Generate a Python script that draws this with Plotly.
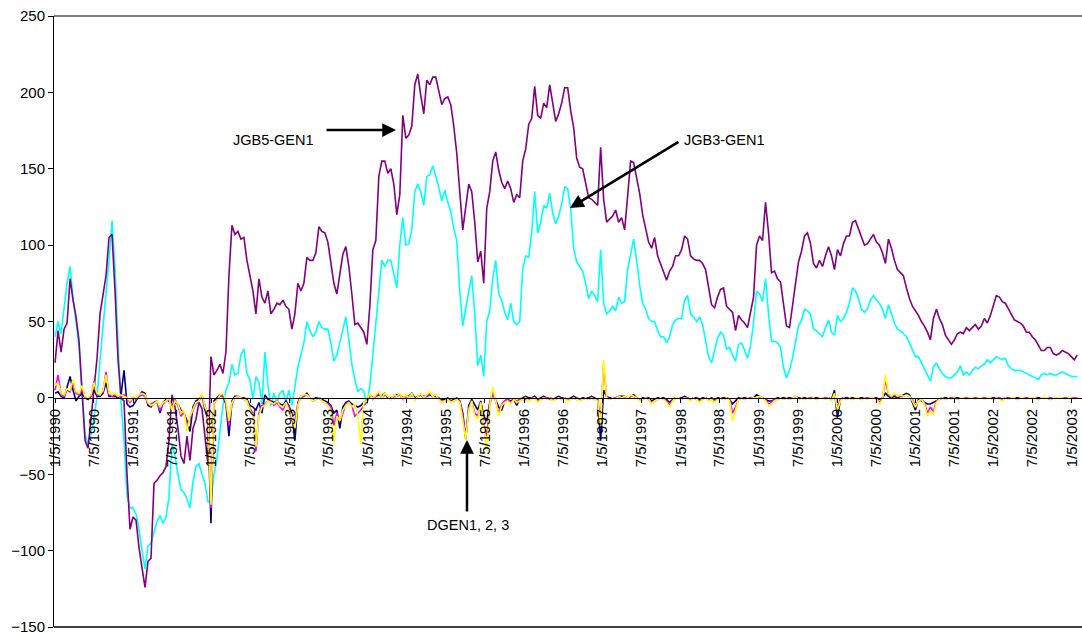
import pandas as pd
import plotly.graph_objects as go

# ---------------- data ----------------
start_date = "1990-01-05"       # first fortnightly observation
n_points = 342                   # fortnightly observations up to early 2003

# JGB5-GEN1 (purple), one list per year (26 fortnights)
P1990 = [23, 44, 30, 45, 49, 78, 64, 53, 37, 8, -28, -33, -14, 5, 26, 55, 68, 80, 105, 107, 70, 25, 0, -2, -50, -86]
P1991 = [-78, -80, -98, -112, -124, -107, -105, -56, -54, -51, -49, -45, -28, 2, -6, -20, -38, -43, -25, -41, -20, -14, -3, -7, -25, -43]
P1992 = [27, 15, 18, 22, 16, 30, 80, 113, 107, 109, 104, 105, 90, 80, 70, 55, 78, 66, 62, 70, 55, 58, 62, 61, 64, 60]
P1993 = [58, 45, 55, 75, 70, 75, 92, 90, 90, 95, 112, 109, 108, 102, 88, 75, 68, 82, 94, 99, 86, 68, 48, 49, 46, 43]
P1994 = [35, 60, 97, 103, 145, 155, 155, 147, 150, 140, 120, 133, 185, 170, 172, 178, 205, 212, 198, 186, 208, 205, 210, 210, 201, 192]
P1995 = [196, 197, 192, 178, 160, 133, 110, 125, 140, 135, 115, 89, 96, 75, 124, 135, 155, 161, 149, 141, 137, 142, 137, 128, 133, 131]
P1996 = [155, 163, 179, 183, 204, 185, 183, 193, 190, 205, 192, 181, 186, 193, 203, 203, 188, 177, 157, 151, 150, 141, 131, 130, 128, 126]
P1997 = [164, 130, 115, 117, 119, 123, 115, 118, 110, 132, 155, 154, 145, 134, 120, 110, 102, 98, 105, 93, 88, 82, 77, 83, 86, 93]
P1998 = [93, 97, 106, 104, 93, 91, 90, 90, 88, 84, 72, 61, 59, 66, 71, 72, 60, 58, 56, 44, 54, 51, 49, 46, 55, 66]
P1999 = [100, 106, 103, 128, 108, 82, 83, 78, 76, 60, 47, 46, 61, 75, 89, 96, 106, 108, 101, 88, 85, 90, 86, 93, 99, 93]
P2000 = [84, 97, 93, 101, 106, 106, 115, 116, 111, 105, 100, 101, 104, 107, 102, 100, 95, 88, 104, 98, 90, 84, 82, 80, 72, 65]
P2001 = [60, 57, 54, 50, 47, 43, 38, 52, 58, 52, 48, 41, 38, 35, 38, 42, 43, 42, 46, 44, 46, 48, 45, 47, 52, 49]
P2002 = [54, 60, 67, 66, 63, 62, 58, 54, 51, 50, 49, 47, 43, 43, 40, 38, 34, 31, 31, 33, 33, 29, 28, 29, 31, 30]
P2003 = [29, 27, 25, 28]

# JGB3-GEN1 (cyan)
C1990 = [40, 50, 42, 60, 75, 86, 65, 50, 33, 3, -24, -30, -24, -13, 1, 25, 45, 68, 90, 116, 85, 35, -3, -28, -64, -72]
C1991 = [-72, -76, -86, -100, -112, -97, -95, -88, -81, -77, -82, -78, -65, -30, -38, -50, -60, -62, -66, -72, -55, -45, -43, -50, -56, -68]
C1992 = [-68, -50, -40, -22, -5, 5, 10, 22, 15, 16, 28, 32, 16, 12, -1, 14, 10, -4, 30, 8, -5, 3, -3, 3, 5, -3]
C1993 = [5, -5, 8, 20, 28, 36, 50, 44, 40, 43, 50, 46, 45, 45, 36, 24, 28, 36, 44, 53, 38, 22, 12, 4, 6, 4]
C1994 = [-4, 8, 28, 48, 66, 90, 86, 90, 90, 80, 72, 100, 118, 100, 101, 110, 135, 140, 135, 126, 145, 146, 152, 145, 138, 129]
C1995 = [136, 128, 122, 111, 103, 70, 47, 59, 70, 80, 55, 21, 28, 14, 50, 57, 78, 90, 68, 64, 56, 51, 62, 50, 48, 50]
C1996 = [84, 93, 92, 108, 135, 108, 115, 126, 124, 134, 121, 114, 119, 127, 138, 137, 124, 98, 89, 86, 83, 75, 65, 70, 67, 63]
C1997 = [97, 62, 55, 57, 60, 57, 66, 62, 63, 84, 95, 104, 90, 74, 62, 58, 52, 50, 50, 44, 40, 40, 36, 40, 48, 51]
C1998 = [52, 52, 64, 67, 55, 53, 50, 53, 48, 36, 27, 23, 31, 39, 43, 41, 32, 33, 28, 24, 35, 36, 31, 26, 34, 49]
C1999 = [70, 68, 63, 78, 55, 37, 37, 36, 33, 20, 13, 18, 26, 38, 47, 51, 58, 57, 55, 45, 44, 42, 40, 46, 51, 43]
C2000 = [41, 54, 50, 52, 56, 62, 72, 70, 65, 58, 56, 58, 64, 67, 64, 62, 58, 52, 61, 55, 49, 45, 44, 42, 40, 36]
C2001 = [31, 27, 27, 23, 20, 15, 11, 20, 23, 19, 16, 14, 13, 13, 15, 17, 21, 15, 17, 15, 18, 20, 19, 21, 22, 25]
C2002 = [23, 25, 27, 26, 25, 26, 21, 19, 18, 18, 18, 17, 16, 15, 14, 13, 12, 15, 16, 15, 16, 15, 15, 16, 17, 16]
C2003 = [15, 14, 14, 14]

# DGEN1 (navy)
N1990 = [3, 4, 1, 0, 7, 14, 5, -2, 1, 3, 0, -1, 1, 5, 1, 1, 3, 10, 1, 1, 1, 0, 2, 18, -4, -6]
N1991 = [-5, -2, 1, 4, 3, -5, -6, -3, -2, -10, -3, -1, -2, -5, -3, -4, -8, -10, -15, -22, -6, -2, -1, 2, -8, -14]
N1992 = [-82, -2, 0, 2, 1, -4, -25, -2, 1, 1, 0, 0, -1, -5, -6, -8, -3, -10, 2, -1, -2, -3, -2, -4, -5, -2]
N1993 = [-5, -10, -28, -3, 1, 1, 3, 0, -1, 0, 0, -1, -2, -3, -5, -10, -8, -20, -6, -3, -2, -4, -5, -6, -5, -3]
N1994 = [-2, 2, 0, 1, 2, 1, 3, 0, 0, 1, 2, 2, 0, 1, 1, 3, 0, 1, 2, 1, 1, 2, 1, 1, 0, -1]
N1995 = [-1, 0, -2, -1, 0, -2, -10, -27, -5, -1, -5, -8, -2, -12, -15, -3, 3, -1, -6, -8, -2, -1, -2, -1, -5, -1]
N1996 = [0, 1, 0, 0, 1, -1, 0, 1, 0, 0, -1, 0, 1, 0, 0, -1, 0, 1, 0, -1, 0, 0, 0, 1, 0, -1]
N1997 = [-28, 5, 1, 0, 0, 0, 1, 1, 1, 0, 1, 2, 0, -1, 0, 0, 0, -2, -1, 0, 0, 0, -1, -3, -1, 0]
N1998 = [0, 0, 1, 0, -1, 0, 0, -1, 0, 0, -1, 0, -1, 0, 0, 0, 0, -1, -4, -2, 0, 0, 0, 0, 0, 0]
N1999 = [2, 1, 0, -1, -2, -2, -1, 0, 0, 0, 0, 0, 0, 1, 0, 0, 0, 0, 0, 0, 0, 0, 0, 0, 0, -1]
N2000 = [5, -13, -1, 0, 0, 0, 0, 0, 0, 0, 0, 0, 0, 0, 0, -1, 0, 3, 1, 0, 1, 0, 1, 2, 3, 2]
N2001 = [-3, -8, -1, -2, -3, -4, -4, -3, -2, -1, 0, 0, 0, 0, 0, 0, 0, 0, 0, 0, 0, 0, 0, 0, 0, 0]
N2002 = [0, 0, 0, 0, -1, 0, 0, 0, 0, 0, 0, 0, 0, 0, 0, 0, 0, 0, 0, 0, -1, 0, 0, 0, 0, 0]
N2003 = [0, 0, 0, 0]

# DGEN2 (magenta)
M1990 = [5, 15, 2, 1, 5, 4, 10, 3, 2, 6, 0, 0, 1, 11, 2, 2, 4, 17, 2, 1, 2, 1, 1, 2, 0, -3]
M1991 = [0, -1, 1, 2, 1, -4, -4, -3, -3, -8, -4, -2, -1, -6, -1, -5, -12, -9, -18, -14, -8, -4, -2, 2, -5, -12]
M1992 = [-72, -4, -1, 1, 2, -3, -18, -4, 0, 1, 0, -1, -2, -7, -10, -35, -10, -5, -4, -2, -2, -5, -3, -6, -8, -3]
M1993 = [-6, -15, -15, -4, 0, 1, 2, 0, -2, -1, 0, -2, -3, -4, -6, -18, -10, -15, -10, -4, -3, -5, -12, -10, -8, -5]
M1994 = [-3, 2, -1, 1, 3, 0, 2, 1, -1, 1, 1, 2, -1, 1, 0, 2, -1, 1, 2, 0, 1, 3, 1, 2, -1, -2]
M1995 = [-2, -1, -2, -2, -1, -2, -12, -26, -7, -2, -10, -12, -3, -18, -25, -5, 4, -2, -10, -4, -2, -1, -3, -1, -2, -1]
M1996 = [-1, -1, -1, 0, 0, -2, -1, 0, 0, -1, -1, -1, 0, -1, 0, -1, -1, 0, -1, -1, -1, 0, -1, 0, -1, -1]
M1997 = [-15, 22, 0, -1, 0, 0, 1, 0, 1, 0, 1, 1, 0, -1, -1, 0, -1, -3, -2, -1, 0, -1, -2, -5, -2, 0]
M1998 = [0, -1, 0, 0, -1, 0, -1, -2, -1, 0, -1, -1, -2, -1, 0, -1, 0, -1, -10, -6, -1, 0, -1, 0, 0, 0]
M1999 = [0, 0, 0, -1, -4, -3, -1, -1, 0, -1, 0, -1, 0, 0, -1, 0, -1, 0, 0, 0, -1, 0, 0, 0, 0, -1]
M2000 = [2, -6, -1, 0, -1, 0, -1, 0, 0, -1, 0, 0, 0, 0, -1, -3, 0, 12, 2, 1, 2, 1, 1, 1, 2, 1]
M2001 = [-1, -5, -2, -1, -3, -10, -6, -9, -2, -1, 0, -1, 0, 0, 0, -1, 0, 0, 0, 0, 0, 0, 0, 0, 0, 0]
M2002 = [0, -1, 0, 0, -1, 0, 0, 0, 0, -1, 0, 0, 0, 0, 0, 0, -1, 0, 0, 0, 0, 0, 0, 0, 0, 0]
M2003 = [0, 0, 0, 0]

# DGEN3 (yellow)
Y1990 = [8, 10, 3, 2, 6, 5, 12, 4, 3, 8, 1, 0, 2, 10, 3, 2, 5, 15, 3, 2, 3, 1, 2, 1, 0, -2]
Y1991 = [1, 0, 2, 3, 2, -3, -5, -4, -2, -6, -3, -2, 0, -8, -2, -4, -10, -8, -22, -12, -8, -3, -2, 3, -6, -10]
Y1992 = [-70, -3, -2, 2, 3, -2, -15, -3, 0, 1, 0, -1, -2, -8, -12, -32, -12, -6, -5, -2, -3, -4, -2, -5, -6, -3]
Y1993 = [-8, -12, -20, -5, 1, 2, 2, 0, -2, -1, 0, -2, -3, -5, -8, -30, -12, -15, -8, -5, -3, -6, -4, -12, -30, -3]
Y1994 = [-2, 3, -1, 2, 4, 0, 3, 1, -1, 2, 1, 3, -1, 2, 0, 3, -2, 1, 3, 0, 2, 4, 1, 2, -1, -3]
Y1995 = [-2, -1, -3, -2, -1, -3, -15, -27, -8, -2, -12, -14, -3, -20, -35, -5, 7, -2, -12, -5, -3, -2, -4, -1, -3, -2]
Y1996 = [-1, 0, -2, -1, 0, -3, -1, 0, -1, 0, -2, -1, 0, -1, 0, -2, -1, 0, -1, -2, -1, 0, -1, 0, -1, -2]
Y1997 = [-18, 25, 0, -1, 0, -1, 1, 0, 1, 0, 2, 1, 0, -2, -1, 0, -1, -4, -2, -1, 0, -1, -3, -6, -2, 0]
Y1998 = [0, -1, 0, -1, -2, 0, -1, -3, -1, 0, -2, -1, -3, -1, 0, -1, 0, -2, -15, -8, -1, 0, -1, 0, -1, 0]
Y1999 = [0, 1, 0, -2, -5, -4, -2, -1, 0, -1, 0, -1, 0, 1, -1, 0, -1, 0, -1, 0, -1, 0, 0, -1, 0, -2]
Y2000 = [3, -8, -2, 0, -1, 0, -1, 0, 0, -1, 0, -1, 0, 0, -1, -4, -1, 15, 3, 1, 3, 1, 2, 1, 2, 1]
Y2001 = [-2, -6, -2, -1, -4, -12, -8, -11, -3, -1, 0, -1, 0, -1, 0, -1, 0, 0, -1, 0, 0, -1, 0, 0, -1, 0]
Y2002 = [0, -1, 0, -1, -2, 0, -1, 0, 0, -1, 0, 0, -1, 0, 0, 0, -1, 0, 0, 0, -1, 0, 0, 0, 0, -1]
Y2003 = [0, 0, -1, 0]

tick_labels = [
    "1/5/1990", "7/5/1990", "1/5/1991", "7/5/1991", "1/5/1992", "7/5/1992",
    "1/5/1993", "7/5/1993", "1/5/1994", "7/5/1994", "1/5/1995", "7/5/1995",
    "1/5/1996", "7/5/1996", "1/5/1997", "7/5/1997", "1/5/1998", "7/5/1998",
    "1/5/1999", "7/5/1999", "1/5/2000", "7/5/2000", "1/5/2001", "7/5/2001",
    "1/5/2002", "7/5/2002", "1/5/2003",
]

# ---------------- assemble ----------------
def join(*parts):
    out = []
    for p in parts:
        out.extend(p)
    return out

jgb5 = join(P1990, P1991, P1992, P1993, P1994, P1995, P1996, P1997, P1998, P1999, P2000, P2001, P2002, P2003)
jgb3 = join(C1990, C1991, C1992, C1993, C1994, C1995, C1996, C1997, C1998, C1999, C2000, C2001, C2002, C2003)
dgen1 = join(N1990, N1991, N1992, N1993, N1994, N1995, N1996, N1997, N1998, N1999, N2000, N2001, N2002, N2003)
dgen2 = join(M1990, M1991, M1992, M1993, M1994, M1995, M1996, M1997, M1998, M1999, M2000, M2001, M2002, M2003)
dgen3 = join(Y1990, Y1991, Y1992, Y1993, Y1994, Y1995, Y1996, Y1997, Y1998, Y1999, Y2000, Y2001, Y2002, Y2003)

dates = pd.date_range(start=start_date, periods=n_points, freq="14D")
tickvals = pd.to_datetime(tick_labels, format="%m/%d/%Y")

series = [
    ("JGB3-GEN1", jgb3, "#00FFFF"),
    ("JGB5-GEN1", jgb5, "#800080"),
    ("DGEN1", dgen1, "#000080"),
    ("DGEN2", dgen2, "#FF00FF"),
    ("DGEN3", dgen3, "#FFFF00"),
]

fig = go.Figure()
for name, vals, col in series:
    fig.add_trace(go.Scatter(x=dates[:len(vals)], y=vals, mode="lines", name=name,
                             line=dict(color=col, width=1.6), hoverinfo="skip"))

FONT = "Arial, Liberation Sans, sans-serif"
fig.update_layout(
    width=1082, height=634,
    margin=dict(l=54, r=0, t=16, b=7),
    paper_bgcolor="white", plot_bgcolor="white",
    showlegend=False,
    font=dict(family=FONT, size=15, color="black"),
)
fig.update_xaxes(
    type="date", range=["1989-12-31", "2003-02-22"],
    anchor="free", position=0.375,
    showline=True, linecolor="black", linewidth=1,
    ticks="outside", ticklen=4, tickcolor="black", tickwidth=1,
    tickvals=tickvals, ticktext=tick_labels, tickangle=-90,
    tickfont=dict(family=FONT, size=15, color="black"),
    showgrid=False, zeroline=False, automargin=False,
    ticklabeloverflow="allow",
)
fig.update_yaxes(
    range=[-150, 250], tick0=0, dtick=50,
    showline=True, linecolor="black", linewidth=1,
    ticks="outside", ticklen=5, tickcolor="black", tickwidth=1,
    tickfont=dict(family=FONT, size=15, color="black"),
    showgrid=False, zeroline=False, automargin=False,
    ticklabeloverflow="allow",
)

# plot-area frame (top and bottom)
fig.add_shape(type="line", xref="paper", yref="paper", x0=0, x1=1, y0=1, y1=1,
              line=dict(color="black", width=1))
fig.add_shape(type="line", xref="paper", yref="paper", x0=0, x1=1, y0=0, y1=0,
              line=dict(color="black", width=1.5))

# annotations (paper coords of plot area: 1028 x 611 px)
def px(xp):
    return (xp - 54) / 1028.0

def py(yp):
    return (627 - yp) / 611.0

afont = dict(family=FONT, size=14.5, color="black")
fig.add_annotation(x=px(231), y=py(130), xref="paper", yref="paper", text="JGB5-GEN1",
                   showarrow=False, font=afont)
fig.add_annotation(x=px(724), y=py(130), xref="paper", yref="paper", text="JGB3-GEN1",
                   showarrow=False, font=afont)
fig.add_annotation(x=px(468), y=py(535), xref="paper", yref="paper", text="DGEN1, 2, 3",
                   showarrow=False, font=afont)

arrow = dict(showarrow=True, arrowhead=2, arrowsize=1.1, arrowwidth=2.5, arrowcolor="black",
             text="", xref="paper", yref="paper", standoff=0, startstandoff=0)
fig.add_annotation(x=px(396), y=py(130), ax=325 - 396, ay=0, **arrow)
fig.add_annotation(x=px(570), y=py(208), ax=680 - 570, ay=141 - 208, **arrow)
fig.add_annotation(x=px(467), y=py(440), ax=0, ay=513 - 440, **arrow)

fig.write_html("out.html", config={"displayModeBar": False},
               post_script="document.body.style.margin='0px';")
